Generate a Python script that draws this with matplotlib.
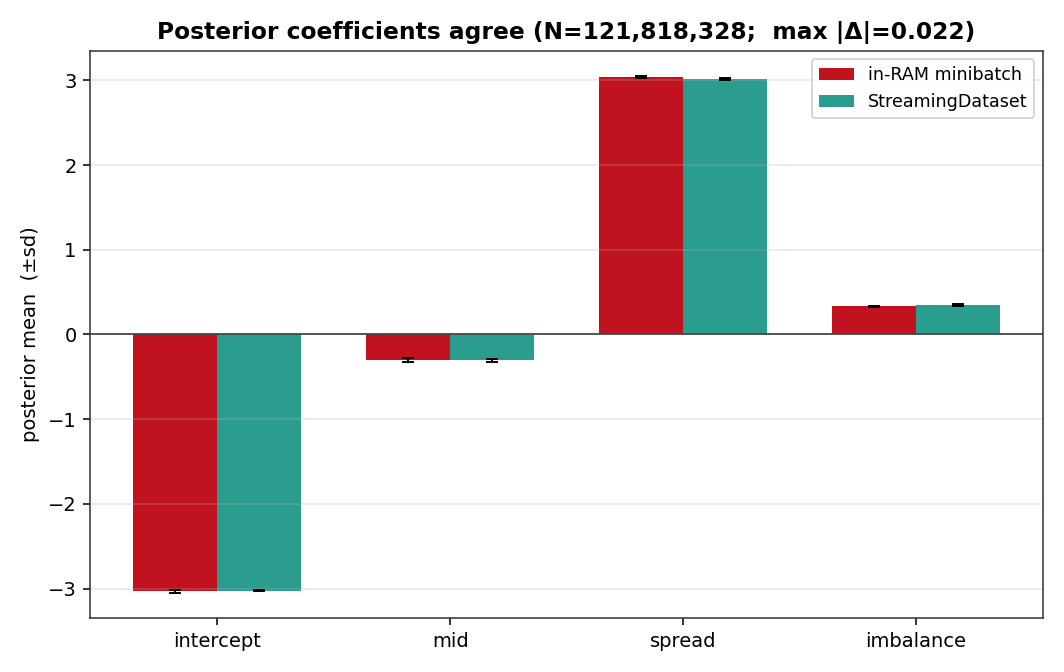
import numpy as np
import matplotlib
matplotlib.use("Agg")
import matplotlib.pyplot as plt

# coefficient names and posterior summaries
coefs = ["intercept", "mid", "spread", "imbalance"]
ram_mean = [-3.032, -0.300, 3.035, 0.332]
ram_sd = [0.014, 0.026, 0.010, 0.010]
stream_mean = [-3.022, -0.306, 3.013, 0.344]
stream_sd = [0.010, 0.020, 0.010, 0.010]
n_rows = 121818328
max_delta = 0.022

x = np.arange(len(coefs))
w = 0.36

fig, ax = plt.subplots(figsize=(7.6, 4.8), dpi=140)
ax.bar(x - w / 2, ram_mean, w, yerr=ram_sd, capsize=3, color="#c1121f",
       label="in-RAM minibatch", error_kw=dict(ecolor="black", lw=1))
ax.bar(x + w / 2, stream_mean, w, yerr=stream_sd, capsize=3, color="#2a9d8f",
       label="StreamingDataset", error_kw=dict(ecolor="black", lw=1))
ax.axhline(0, color="#444444", lw=0.9)
ax.set_xticks(x)
ax.set_xticklabels(coefs)
ax.set_ylabel("posterior mean  (\u00b1sd)")
ax.set_title(f"Posterior coefficients agree (N={n_rows:,};  max |\u0394|={max_delta:.3f})",
             fontweight="bold", fontsize=12)
ax.grid(axis="y", alpha=0.3)
for s in ax.spines.values():
    s.set_color("#333333")
ax.legend(loc="upper right", fontsize=9)
plt.tight_layout()
plt.savefig("out.png", dpi=140)
